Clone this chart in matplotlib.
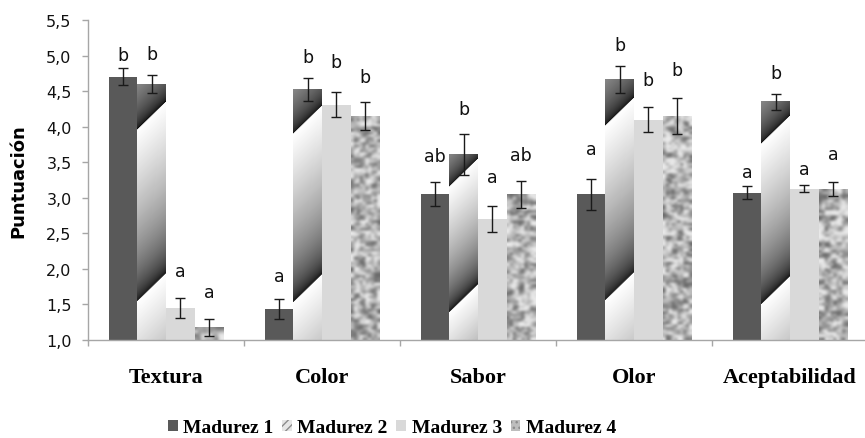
import numpy as np
import matplotlib
matplotlib.use("Agg")
import matplotlib.pyplot as plt
from matplotlib.patches import Patch
from matplotlib.ticker import FixedLocator, FuncFormatter

# ---------------- data ----------------
categories = ["Textura", "Color", "Sabor", "Olor", "Aceptabilidad"]
series_names = ["Madurez 1", "Madurez 2", "Madurez 3", "Madurez 4"]
madurez1 = [4.70, 1.44, 3.05, 3.05, 3.07]
madurez2 = [4.60, 4.52, 3.61, 4.66, 4.35]
madurez3 = [1.45, 4.31, 2.70, 4.10, 3.13]
madurez4 = [1.18, 4.15, 3.04, 4.15, 3.12]
err1 = [0.12, 0.14, 0.17, 0.22, 0.09]
err2 = [0.13, 0.16, 0.29, 0.19, 0.11]
err3 = [0.14, 0.18, 0.18, 0.18, 0.05]
err4 = [0.12, 0.20, 0.19, 0.25, 0.10]
letters1 = ["b", "a", "ab", "a", "a"]
letters2 = ["b", "b", "b", "b", "b"]
letters3 = ["a", "b", "a", "b", "a"]
letters4 = ["a", "b", "ab", "b", "a"]
yticks = [1.0, 1.5, 2.0, 2.5, 3.0, 3.5, 4.0, 4.5, 5.0, 5.5]

# style: gap (pixels) between error-bar top and letter baseline
gaps = [[8, 18, 21, 25, 9],
        [16, 16, 20, 16, 16],
        [22, 25, 24, 22, 11],
        [22, 20, 21, 23, 23]]

W, H = 865, 439
fig = plt.figure(figsize=(W / 100, H / 100), dpi=100)
ax = fig.add_axes([88 / W, 1 - 341 / H, 780 / W, 320 / H])

values = [madurez1, madurez2, madurez3, madurez4]
errs = [err1, err2, err3, err4]
letters = [letters1, letters2, letters3, letters4]
x = np.arange(len(categories))
bw = 0.183
faces = ["#595959", "none", "#d9d9d9", "none"]

ax.set_xlim(-0.5, 4.5)
ax.set_ylim(1.0, 5.5)

containers = []
for j in range(4):
    pos = x + (j - 1.5) * bw
    heights = np.array(values[j]) - 1.0
    c = ax.bar(pos, heights, bw, bottom=1.0, color=faces[j], edgecolor="none",
               linewidth=0, zorder=2)
    containers.append(c)


def px_size(patch):
    bb = patch.get_window_extent(renderer=fig.canvas.get_renderer())
    return bb.width, bb.height


def hash_noise(ix, iy):
    v = np.sin(ix * 127.1 + iy * 311.7) * 43758.5453
    return v - np.floor(v)


fig.canvas.draw()
# Madurez 2: diagonal saw-tooth gradient
for k, p in enumerate(containers[1].patches):
    x0, y0 = p.get_x(), p.get_y()
    wdt, hgt = p.get_width(), p.get_height()
    Wp, Hp = px_size(p)
    nx, ny = max(int(Wp), 2), max(int(Hp), 2)
    X, Y = np.meshgrid(np.arange(nx) + 0.5, np.arange(ny) + 0.5)
    ph = ((Y - X) / Hp - 0.15) / 0.67
    ph = ph - np.floor(ph)
    g = 0.03 + 0.97 * ph ** 0.5
    img = np.flipud(g)
    ax.imshow(img, cmap="gray", vmin=0, vmax=1, extent=(x0, x0 + wdt, y0, y0 + hgt),
              aspect="auto", interpolation="bilinear", zorder=2.2)

# Madurez 4: granite-like texture
for k, p in enumerate(containers[3].patches):
    x0, y0 = p.get_x(), p.get_y()
    wdt, hgt = p.get_width(), p.get_height()
    Wp, Hp = px_size(p)
    cell = 2.6
    nx, ny = max(int(Wp / cell), 2), max(int(Hp / cell), 2)
    IX, IY = np.meshgrid(np.arange(nx) + 17 * k, np.arange(ny))
    n1 = hash_noise(IX, IY)
    n2 = hash_noise(IX // 2 + 3, IY // 2 + 5)
    n = 0.5 * n1 + 0.5 * n2
    g = 0.42 + 0.5 * np.clip((n - 0.15) / 0.6, 0, 1)
    ax.imshow(g, cmap="gray", vmin=0, vmax=1, extent=(x0, x0 + wdt, y0, y0 + hgt),
              aspect="auto", interpolation="bicubic", zorder=2.2)

ax.set_xlim(-0.5, 4.5)
ax.set_ylim(1.0, 5.5)

for j in range(4):
    pos = x + (j - 1.5) * bw
    ax.errorbar(pos, values[j], yerr=errs[j], fmt="none", ecolor="#1a1a1a",
                elinewidth=1.0, capsize=3.3, capthick=1.0, zorder=4)
    for i in range(len(categories)):
        ax.annotate(letters[j][i], (pos[i], values[j][i] + errs[j][i]),
                    xytext=(0, gaps[j][i] * 0.72), textcoords="offset points",
                    ha="center", va="baseline", fontsize=12.5,
                    family="DejaVu Sans", color="#111111", zorder=5)

# axes styling
for s in ["top", "right"]:
    ax.spines[s].set_visible(False)
for s in ["left", "bottom"]:
    ax.spines[s].set_color("#a6a6a6")
    ax.spines[s].set_linewidth(1.0)

ax.yaxis.set_major_locator(FixedLocator(yticks))
ax.yaxis.set_major_formatter(FuncFormatter(lambda v, _: f"{v:.1f}".replace(".", ",")))
ax.tick_params(axis="y", direction="out", length=4.3, width=1.0, color="#a6a6a6",
               pad=7.5, labelsize=11.5, labelcolor="#111111")
ax.set_xticks(x)
ax.set_xticklabels(categories, family="Liberation Serif", fontweight="bold", fontsize=16)
ax.set_xticks(np.arange(-0.5, 4.5, 1.0), minor=True)
ax.tick_params(axis="x", which="major", length=0, pad=19.5)
ax.tick_params(axis="x", which="minor", direction="out", length=4.3, width=1.0,
               color="#a6a6a6")

ax.set_ylabel("Puntuación", fontsize=13, fontweight="bold", family="DejaVu Sans")
ax.yaxis.set_label_coords(-61 / 780, 0.5)

handles = [
    Patch(facecolor="#595959", edgecolor="none"),
    Patch(facecolor="#e6e6e6", edgecolor="#8c8c8c", hatch="////", linewidth=0),
    Patch(facecolor="#d9d9d9", edgecolor="none"),
    Patch(facecolor="#bdbdbd", edgecolor="#8c8c8c", hatch="...", linewidth=0),
]
leg = fig.legend(handles, series_names, loc="center", ncol=4,
                 bbox_to_anchor=(392 / W, 1 - 429 / H), frameon=False,
                 prop={"family": "Liberation Serif", "weight": "bold", "size": 14},
                 handlelength=0.5, handleheight=0.5, handletextpad=0.28,
                 columnspacing=0.45, borderaxespad=0, borderpad=0)

fig.savefig("out.png", dpi=100, facecolor="white")
